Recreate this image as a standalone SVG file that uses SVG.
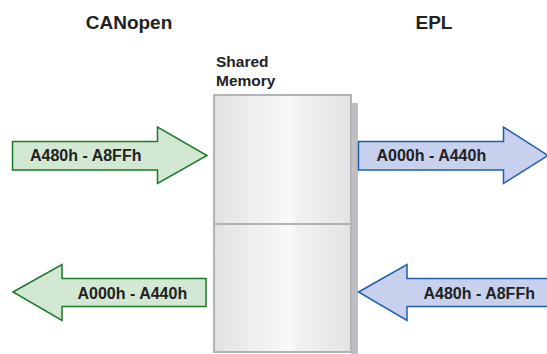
<svg xmlns="http://www.w3.org/2000/svg" width="547" height="354" viewBox="0 0 547 354">
<style>
text{font-family:"Liberation Sans",Arial,sans-serif;font-weight:bold;fill:#222}
.title{font-size:19px}
.lbl{font-size:16px}
.cap{font-size:15.5px}
.g{fill:#d3e8d2;stroke:#1b7a2b;stroke-width:1.5;stroke-linejoin:miter}
.b{fill:#c7d0ec;stroke:#1f5fae;stroke-width:1.5;stroke-linejoin:miter}
.mem{fill:url(#memg);stroke:#b3b2b5;stroke-width:2}
</style>
<defs>
<linearGradient id="memg" x1="0" y1="0" x2="1" y2="0">
<stop offset="0" stop-color="#e2e0e3"/>
<stop offset="0.3" stop-color="#efeff0"/>
<stop offset="0.55" stop-color="#f8f9f9"/>
<stop offset="0.62" stop-color="#f1f1f2"/>
<stop offset="1" stop-color="#e4e2e5"/>
</linearGradient>
</defs>
<text class="title" x="129" y="29" text-anchor="middle">CANopen</text>
<text class="title" x="434" y="29" text-anchor="middle">EPL</text>
<g id="shared-memory">
<text class="cap" x="216" y="67">Shared</text>
<text class="cap" x="216" y="86">Memory</text>
<rect x="351" y="103" width="7" height="251" fill="#c0bec2"/>
<rect class="mem" x="214" y="95" width="137" height="129"/>
<rect class="mem" x="214" y="224" width="137" height="128"/>
</g>
<g id="connectors">
<g id="canopen-in">
<polygon class="g" points="12.5,141.5 157.5,141.5 157.5,127 207,155.5 157.5,183.5 157.5,170 12.5,170"/>
<text class="lbl" x="30" y="161">A480h - A8FFh</text>
</g>
<g id="epl-out">
<polygon class="b" points="358.5,141.5 503.5,141.5 503.5,127 548,155.5 503.5,183.5 503.5,170 358.5,170"/>
<text class="lbl" x="376.5" y="161">A000h - A440h</text>
</g>
<g id="canopen-out">
<polygon class="g" points="13,292 62,264.5 62,278.5 206,278.5 206,306.5 62,306.5 62,320.5"/>
<text class="lbl" x="77.5" y="298.5">A000h - A440h</text>
</g>
<g id="epl-in">
<polygon class="b" points="358.5,292 407,264.5 407,278.5 550,278.5 550,306.5 407,306.5 407,320.5"/>
<text class="lbl" x="423.5" y="298.5">A480h - A8FFh</text>
</g>
</g>
</svg>
